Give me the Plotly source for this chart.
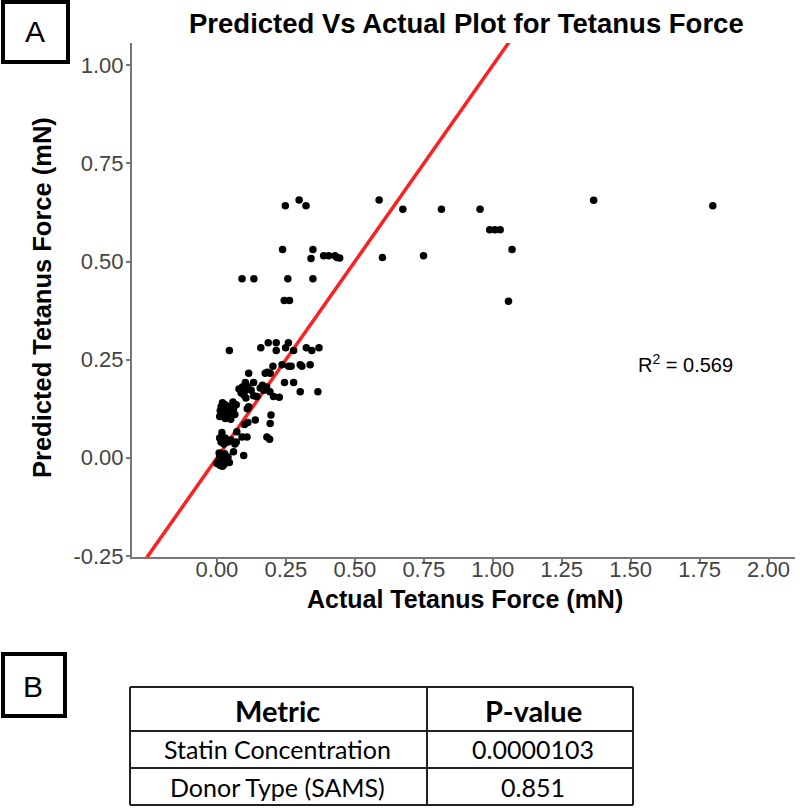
import plotly.graph_objects as go

# ---------------- data ----------------
actual = [
    0.248, 0.298, 0.323, 0.588,
    0.238, 0.348, 0.341, 0.387, 0.405, 0.428, 0.435, 0.445,
    0.091, 0.134, 0.257, 0.348,
    0.244, 0.263,
    0.674, 0.814, 0.954, 1.366, 1.798,
    0.989, 1.008, 1.027, 1.070, 0.749, 1.057, 0.600,
    0.045, 0.159, 0.186, 0.215, 0.215, 0.259, 0.249, 0.278, 0.324, 0.344, 0.370,
    0.236, 0.260, 0.269, 0.302, 0.308, 0.338, 0.203,
    0.175, 0.183, 0.193, 0.115,
    0.245, 0.278, 0.103, 0.133,
    0.080, 0.092, 0.100, 0.112, 0.124, 0.105, 0.088,
    0.157, 0.170, 0.180, 0.192, 0.165,
    0.302, 0.366,
    0.145, 0.133, 0.205, 0.226, 0.098, 0.105,
    0.020, 0.030, 0.015, 0.040, 0.025, 0.050, 0.060, 0.035, 0.020, 0.045, 0.065, 0.030, 0.050, 0.012, 0.070, 0.058, 0.010,
    0.115, 0.110,
    0.196, 0.193, 0.139, 0.112, 0.100,
    0.018, 0.072,
    0.010, 0.030, 0.040, 0.025, 0.015, 0.050,
    0.091, 0.109, 0.181, 0.191, 0.070, 0.065,
    0.060, 0.097,
    0.010, 0.020, 0.030, 0.005, 0.015, 0.025, 0.012, 0.035, 0.000, 0.020, 0.040, 0.028, 0.008, 0.045,
]
predicted = [
    0.642, 0.657, 0.642, 0.657,
    0.531, 0.531, 0.508, 0.515, 0.515, 0.515, 0.510, 0.509,
    0.456, 0.456, 0.456, 0.456,
    0.401, 0.401,
    0.633, 0.633, 0.633, 0.656, 0.642,
    0.581, 0.581, 0.581, 0.531, 0.515, 0.399, 0.510,
    0.273, 0.280, 0.293, 0.293, 0.273, 0.293, 0.280, 0.273, 0.280, 0.273, 0.280,
    0.237, 0.233, 0.233, 0.237, 0.233, 0.237, 0.233,
    0.215, 0.218, 0.215, 0.215,
    0.192, 0.192, 0.192, 0.192,
    0.175, 0.180, 0.170, 0.180, 0.172, 0.185, 0.165,
    0.178, 0.172, 0.180, 0.168, 0.185,
    0.168, 0.168,
    0.156, 0.158, 0.156, 0.154, 0.160, 0.152,
    0.140, 0.135, 0.130, 0.130, 0.125, 0.120, 0.125, 0.115, 0.110, 0.108, 0.110, 0.100, 0.098, 0.120, 0.135, 0.142, 0.105,
    0.130, 0.125,
    0.109, 0.087, 0.096, 0.090, 0.085,
    0.064, 0.066,
    0.050, 0.050, 0.040, 0.035, 0.040, 0.045,
    0.053, 0.053, 0.053, 0.047, 0.040, 0.035,
    0.015, 0.006,
    0.005, 0.000, -0.005, -0.010, -0.015, -0.018, -0.020, -0.010, -0.015, -0.022, 0.002, 0.010, 0.012, -0.012,
]
identity_line = [-0.4, 2.2]
x_ticks = [0.0, 0.25, 0.5, 0.75, 1.0, 1.25, 1.5, 1.75, 2.0]
y_ticks = [-0.25, 0.0, 0.25, 0.5, 0.75, 1.0]
r_squared = 0.569

table_header = ["Metric", "P-value"]
table_metrics = ["Statin Concentration", "Donor Type (SAMS)"]
table_pvalues = ["0.0000103", "0.851"]

# ---------------- layout geometry ----------------
W, H = 800, 808
L, T = 132, 43
R = W - 795
B = H - 557
PW, PH = W - L - R, H - T - B


def px(x):
    return (x - L) / PW


def py(y):
    return (H - B - y) / PH


fig = go.Figure()
fig.add_trace(go.Scatter(x=identity_line, y=identity_line, mode="lines",
                         line=dict(color="#ff1f1f", width=3.5), hoverinfo="skip",
                         showlegend=False))
fig.add_trace(go.Scatter(x=actual, y=predicted, mode="markers",
                         marker=dict(color="black", size=7.5), showlegend=False))

axis_common = dict(showgrid=False, zeroline=False, showline=True, linecolor="#777777",
                   linewidth=2, ticks="outside", ticklen=4, tickcolor="#777777", tickwidth=1.5,
                   tickfont=dict(family="Liberation Sans, Arial", size=22, color="#444444"))
fig.update_xaxes(range=[-0.308, 2.096], tickvals=x_ticks, ticklabelstandoff=-12,
                 ticktext=[f"{v:.2f}" for v in x_ticks], **axis_common)
fig.update_yaxes(range=[-0.253, 1.057], tickvals=y_ticks, ticklabelstandoff=-2,
                 ticktext=[f"{v:.2f}" for v in y_ticks], **axis_common)


def note(text, x, y, size, family="Liberation Sans, Arial", angle=0, ref="paper"):
    d = dict(text=text, x=x, y=y, showarrow=False, textangle=angle,
             xanchor="center", yanchor="middle",
             font=dict(family=family, size=size, color="black"))
    if ref == "paper":
        d.update(x=px(x), y=py(y), xref="paper", yref="paper")
    else:
        d.update(xref="x", yref="y")
    return d


ann = [
    note("<b>Predicted Vs Actual Plot for Tetanus Force</b>", 466, 24, 27.5),
    note("<b>Actual Tetanus Force (mN)</b>", 465, 599, 25),
    note("<b>Predicted Tetanus Force (mN)</b>", 42, 298, 25.5, angle=-90),
    note(f"R<sup>2</sup> = {r_squared}", 1.70, 0.24, 20, ref="data"),
    note("A", 35, 31, 30),
    note("B", 33, 686, 30),
]

tfont = "Lato, Open Sans, sans-serif"
col_c = [277, 533]
ann.append(note(f"<b>{table_header[0]}</b>", col_c[0], 710, 29, family=tfont))
ann.append(note(f"<b>{table_header[1]}</b>", col_c[1], 710, 29, family=tfont))
row_y = [749, 787]
for i in range(2):
    ann.append(note(table_metrics[i], col_c[0], row_y[i], 25, family=tfont))
    ann.append(note(table_pvalues[i], col_c[1], row_y[i], 25, family=tfont))

shapes = []
# panel label boxes
shapes.append(dict(type="rect", xref="paper", yref="paper", x0=px(3), x1=px(68), y0=py(2), y1=py(62),
                   line=dict(color="black", width=4)))
shapes.append(dict(type="rect", xref="paper", yref="paper", x0=px(3), x1=px(65), y0=py(654), y1=py(716),
                   line=dict(color="black", width=4)))
# table
tl, tr, tm = 130, 633, 427
for yy in [687, 731, 768, 805]:
    shapes.append(dict(type="line", xref="paper", yref="paper", x0=px(tl), x1=px(tr), y0=py(yy), y1=py(yy),
                       line=dict(color="#222222", width=2)))
for xx in [tl, tm, tr]:
    shapes.append(dict(type="line", xref="paper", yref="paper", x0=px(xx), x1=px(xx), y0=py(687), y1=py(805),
                       line=dict(color="#222222", width=2)))

fig.update_layout(width=W, height=H, margin=dict(l=L, r=R, t=T, b=B, autoexpand=False),
                  paper_bgcolor="white", plot_bgcolor="white", annotations=ann, shapes=shapes,
                  showlegend=False)

fig.write_html("out.html", config={"displayModeBar": False},
               post_script="document.body.style.margin='0';document.body.style.overflow='hidden';")
